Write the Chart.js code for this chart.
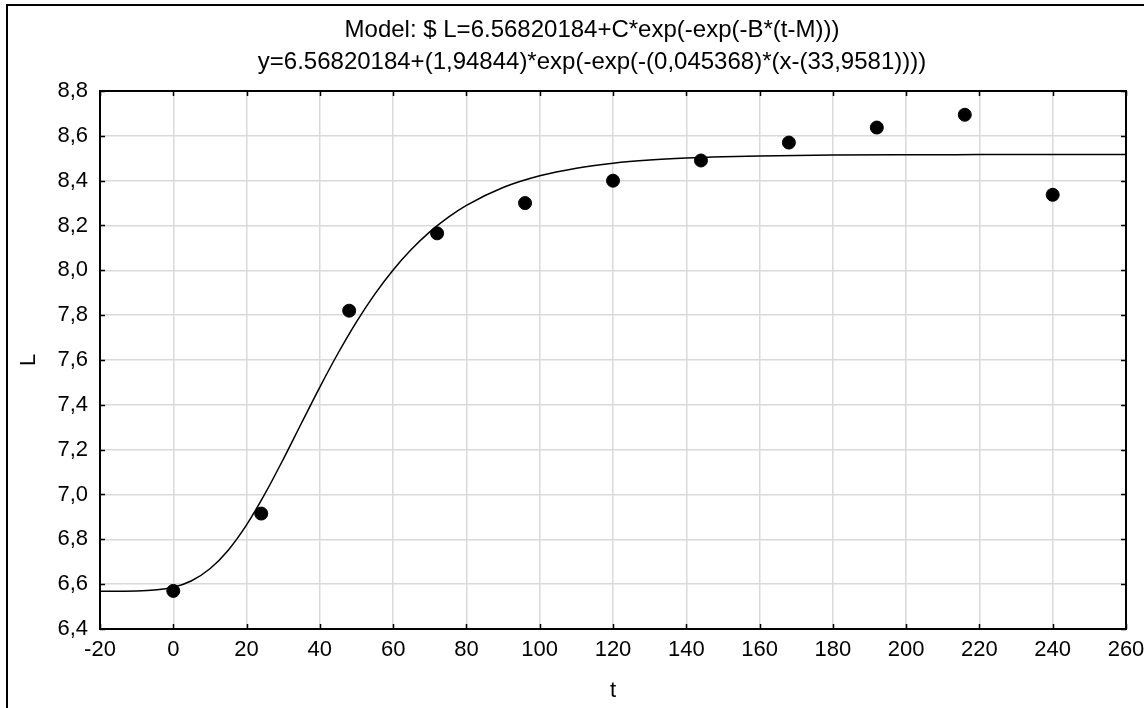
<!DOCTYPE html>
<html>
<head>
<meta charset="utf-8">
<script src="https://cdn.jsdelivr.net/npm/chart.js@4/dist/chart.umd.min.js"></script>
<style>
  html, body { margin: 0; background: #fff; }
  #wrap { width: 1144px; height: 708px; }
</style>
</head>
<body>
<div id="wrap"><canvas id="chart"></canvas></div>
<script>
// observed values
const obsT = [0, 24, 48, 72, 96, 120, 144, 168, 192, 216, 240];
const obsL = [6.57, 6.915, 7.82, 8.165, 8.30, 8.40, 8.49, 8.57, 8.637, 8.694, 8.337];

// fitted curve
const fitT = [-20, -10, 0, 5, 10, 15, 20, 25, 30, 35, 40, 45, 50, 55, 60, 65, 70, 75, 80, 90, 100, 110, 120, 130, 140, 150, 160, 180, 200, 220, 240, 260];
const fitL = [6.568, 6.5695, 6.5865, 6.6154, 6.6686, 6.7516, 6.8644, 7.0023, 7.157, 7.3189, 7.4792, 7.6312, 7.7703, 7.894, 8.0018, 8.0939, 8.1716, 8.2363, 8.2897, 8.3692, 8.4216, 8.4557, 8.4777, 8.4918, 8.5008, 8.5066, 8.5103, 8.5141, 8.5156, 8.5162, 8.5164, 8.5165];

const titleLines = [
    'Model: $ L=6.56820184+C*exp(-exp(-B*(t-M)))',
    'y=6.56820184+(1,94844)*exp(-exp(-(0,045368)*(x-(33,9581))))'
];

const FONT = '"Liberation Sans", Arial, sans-serif';
const GRID = '#d9d9d9';

// outer frame, plot box and inward tick marks
const framePlugin = {
    id: 'frame',
    afterLayout(chart) {
        // title sits a bit right of the canvas centre in the original
        const tb = chart.titleBlock;
        if (tb) { tb.left += 24; tb.right += 24; }
    },
    beforeDraw(chart) {
        const ctx = chart.ctx;
        ctx.save();
        ctx.strokeStyle = '#000';
        ctx.lineWidth = 2;
        ctx.beginPath();
        ctx.moveTo(1144, 5);
        ctx.lineTo(7, 5);
        ctx.lineTo(7, 708);
        ctx.stroke();
        ctx.restore();
    },
    beforeDatasetsDraw(chart) {
        const ctx = chart.ctx;
        const a = chart.chartArea;
        const xs = chart.scales.x, ys = chart.scales.y;
        const len = 5;
        ctx.save();
        ctx.strokeStyle = '#000';
        ctx.lineWidth = 1.5;
        ctx.beginPath();
        xs.ticks.forEach(t => {
            const px = Math.round(xs.getPixelForValue(t.value)) + 0.5;
            ctx.moveTo(px, a.bottom); ctx.lineTo(px, a.bottom - len);
            ctx.moveTo(px, a.top); ctx.lineTo(px, a.top + len);
        });
        ys.ticks.forEach(t => {
            const py = Math.round(ys.getPixelForValue(t.value)) + 0.5;
            ctx.moveTo(a.left, py); ctx.lineTo(a.left + len, py);
            ctx.moveTo(a.right, py); ctx.lineTo(a.right - len, py);
        });
        ctx.stroke();
        ctx.lineWidth = 2;
        ctx.strokeRect(a.left, a.top, a.right - a.left, a.bottom - a.top);
        ctx.restore();
    }
};

new Chart(document.getElementById('chart'), {
    type: 'scatter',
    data: {
        datasets: [{
            label: 'L',
            data: obsT.map((t, i) => ({ x: t, y: obsL[i] })),
            backgroundColor: '#000',
            borderColor: '#000',
            pointRadius: 6.5,
            pointHoverRadius: 6.5
        }, {
            label: 'fit',
            data: fitT.map((t, i) => ({ x: t, y: fitL[i] })),
            showLine: true,
            borderColor: '#000',
            borderWidth: 1.5,
            pointRadius: 0,
            cubicInterpolationMode: 'monotone'
        }]
    },
    options: {
        responsive: true,
        maintainAspectRatio: false,
        animation: false,
        layout: { padding: { left: 10, right: 18, top: 0, bottom: 0 } },
        plugins: {
            legend: { display: false },
            tooltip: { enabled: false },
            title: {
                display: true,
                text: titleLines,
                color: '#000',
                font: { family: FONT, size: 24, weight: 'normal', lineHeight: 1.3333 },
                padding: { top: 14, bottom: 13 }
            }
        },
        scales: {
            x: {
                type: 'linear',
                min: -20,
                max: 260,
                border: { display: false },
                grid: { color: GRID, lineWidth: 1.5, drawTicks: false },
                ticks: {
                    stepSize: 20,
                    color: '#000',
                    padding: 8,
                    maxRotation: 0,
                    font: { family: FONT, size: 22 }
                },
                title: {
                    display: true,
                    text: 't',
                    color: '#000',
                    font: { family: FONT, size: 22 },
                    padding: { top: 0, bottom: 4 }
                },
                afterFit(scale) {
                    scale.height = 79;
                    // let the end labels run past the plot edge, as in the original
                    scale.paddingLeft = 0;
                    scale.paddingRight = 0;
                }
            },
            y: {
                min: 6.4,
                max: 8.8,
                border: { display: false },
                grid: { color: GRID, lineWidth: 1.5, drawTicks: false },
                ticks: {
                    stepSize: 0.2,
                    color: '#000',
                    padding: 12,
                    font: { family: FONT, size: 22 },
                    callback: v => v.toFixed(1).replace('.', ',')
                },
                title: {
                    display: true,
                    text: 'L',
                    color: '#000',
                    font: { family: FONT, size: 22 },
                    padding: { top: 6, bottom: 0 }
                },
                afterFit(scale) {
                    scale.width = 90;
                    scale.paddingTop = 0;
                    scale.paddingBottom = 0;
                }
            }
        }
    },
    plugins: [framePlugin]
});
</script>
</body>
</html>
